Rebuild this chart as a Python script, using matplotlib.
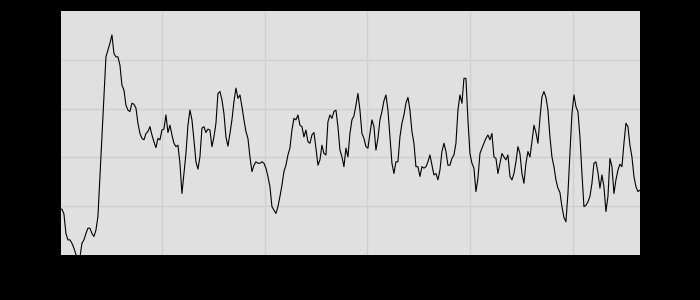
import matplotlib
matplotlib.use('Agg')
import matplotlib.pyplot as plt
import numpy as np

# series, one value roughly every 2 px
values = [
    9.4, 9.4, 8.4, 4.4, 3.1, 3.1, 2.4, 1.4, 0.1, -0.5, -0.5, 2.4, 3.1, 4.4,
    5.5, 5.5, 4.4, 3.8, 5.1, 7.9, 16.1, 24.2, 32.4, 40.6, 42.0, 43.4, 45.1,
    41.3, 40.6, 40.6, 38.9, 34.8, 33.8, 30.7, 29.7, 29.4, 31.1,
    30.9, 30.1, 27.0, 24.9, 23.9, 23.6, 24.9, 25.3, 26.3, 24.6, 23.2, 22.0,
    23.9, 23.6, 25.6, 25.8, 28.7, 25.1, 26.6, 24.6, 22.9, 22.2, 22.5, 18.8,
    12.6, 16.7, 20.8, 26.6, 29.7, 27.7, 23.6, 19.1, 17.6, 20.1, 26.0, 26.3,
    25.1,
    25.8, 25.6, 22.2, 24.2, 27.0, 33.1, 33.5, 31.8, 29.0, 24.2, 22.3, 24.9,
    27.7, 31.4, 34.2, 32.1, 32.8, 30.4, 27.7, 25.3, 23.9, 20.1, 17.1, 18.4,
    19.1, 18.8, 18.8, 19.1, 18.8, 17.8, 16.1, 14.0, 9.9, 9.2, 8.5, 9.9,
    12.0, 14.3, 17.1, 18.4, 20.5, 21.9, 25.6, 28.0, 27.7, 28.7, 26.6, 26.3,
    24.2, 25.6, 23.2, 22.9, 24.6, 25.1, 21.9, 18.4, 19.5, 22.5, 20.8, 20.5,
    27.3, 28.7, 28.0, 29.4, 29.7, 26.3, 21.5, 20.1, 18.1, 21.9, 20.1, 24.9,
    27.7,
    28.5, 30.7, 33.1, 29.7, 24.9, 23.9, 22.2, 21.9, 24.9, 27.7, 26.3, 21.5,
    23.9, 27.7, 29.4, 31.6, 32.8, 29.7, 24.2, 18.8, 16.7, 19.1, 19.1, 24.2,
    27.0, 28.7, 31.1, 32.3, 29.7, 25.3, 22.9, 18.1, 18.1, 16.1, 18.1, 17.8,
    18.1, 19.1, 20.5, 18.4, 16.4, 16.7, 15.4, 17.4, 21.2, 22.9, 21.2, 18.4,
    18.4, 19.8, 20.5, 22.9, 29.7, 32.8, 31.1, 36.2, 36.2, 27.7, 20.8, 18.8,
    17.8, 13.0, 15.7, 20.8, 21.9, 22.9, 23.9, 24.6, 23.6, 24.9, 20.1, 19.8,
    16.7,
    18.8, 20.8, 20.1, 19.5, 20.5, 16.1, 15.4, 16.7, 19.1, 22.2, 20.8, 16.7,
    14.7, 18.8, 21.2, 20.1, 23.2, 26.6, 25.1, 22.9, 28.0, 32.4, 33.5, 32.3,
    29.7, 24.2, 20.1, 18.1, 15.4, 13.7, 12.8, 9.9, 7.7, 6.8, 12.6, 20.8,
    29.0, 32.8, 30.4, 29.4, 24.2, 16.7, 9.9, 10.2, 10.9, 12.0, 14.7, 18.8,
    19.1, 16.9, 13.7, 16.4, 14.0, 8.9, 12.0, 19.8, 18.1, 12.6, 15.4, 17.4,
    18.6, 18.1, 22.9, 27.0, 26.3, 22.5, 20.1, 16.1, 14.0, 13.0, 13.3,
]
x_start, x_end = 1, 565
xticks = [100, 200, 300, 400, 500]
yticks = [10, 20, 30, 40]

x = np.linspace(x_start, x_end, len(values))

fig = plt.figure(figsize=(7, 3), dpi=100, facecolor='black')
ax = fig.add_axes([0.0871, 0.15, 0.8271, 0.8133])
ax.set_facecolor('#e0e0e0')
ax.set_axisbelow(True)
ax.grid(True, color='#d0d0d0', linewidth=1)

ax.plot(x, values, color='black', linewidth=0.8)

ax.set_xlim(2, x_end)
ax.set_ylim(0, 50)
ax.set_xticks(xticks)
ax.set_yticks(yticks)
ax.tick_params(colors='black', labelcolor='black', length=0)
for s in ax.spines.values():
    s.set_visible(False)

fig.savefig('out.png', dpi=100, facecolor='black')
